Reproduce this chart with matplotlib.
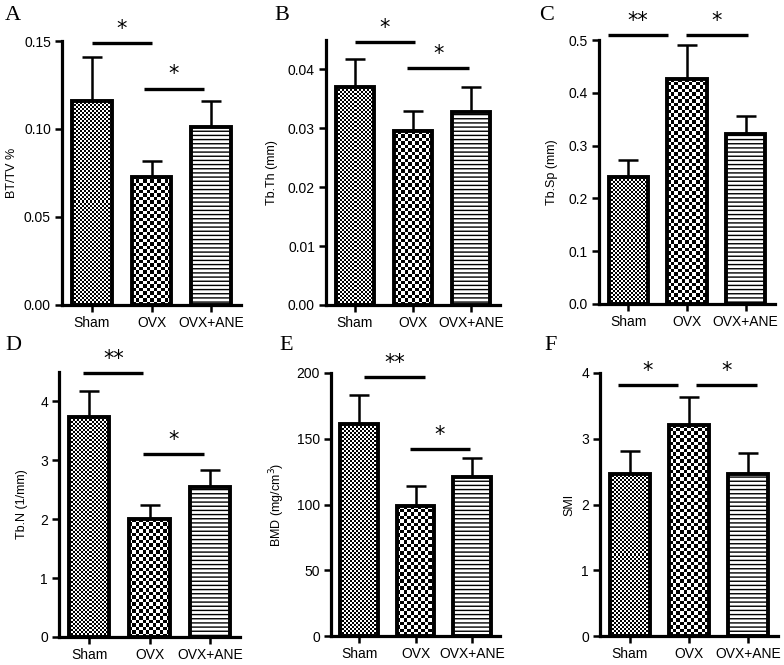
import numpy as np
import matplotlib
matplotlib.use("Agg")
import matplotlib.pyplot as plt

plt.rcParams['font.family'] = ['Liberation Sans', 'DejaVu Sans']
plt.rcParams['hatch.linewidth'] = 1.0

groups = ["Sham", "OVX", "OVX+ANE"]

# mean values and upper error bars
bt_tv = [0.116, 0.073, 0.101]
bt_tv_err = [0.025, 0.009, 0.015]
tb_th = [0.0370, 0.0295, 0.0328]
tb_th_err = [0.0048, 0.0035, 0.0042]
tb_sp = [0.240, 0.427, 0.322]
tb_sp_err = [0.033, 0.063, 0.035]
tb_n = [3.73, 2.00, 2.54]
tb_n_err = [0.44, 0.25, 0.29]
bmd = [161, 99, 121]
bmd_err = [22, 15, 14]
smi = [2.47, 3.21, 2.47]
smi_err = [0.34, 0.43, 0.32]

# significance brackets: (x start, x end, y, stars)
sig_a = [(0.0, 1.0, 0.149, "*"), (0.87, 1.88, 0.123, "*")]
sig_b = [(0.0, 1.03, 0.0446, "*"), (0.9, 1.97, 0.0402, "*")]
sig_c = [(-0.35, 0.68, 0.509, "**"), (0.98, 2.04, 0.509, "*")]
sig_d = [(-0.1, 0.9, 4.48, "**"), (0.9, 1.9, 3.10, "*")]
sig_e = [(0.09, 1.16, 197, "**"), (0.9, 1.97, 142, "*")]
sig_f = [(-0.2, 0.82, 3.82, "*"), (1.12, 2.15, 3.82, "*")]

W, H = 784, 665
fig = plt.figure(figsize=(W / 100, H / 100), dpi=100)


def px_axes(left, right, top, bottom):
    return fig.add_axes([left / W, 1 - bottom / H, (right - left) / W, (bottom - top) / H])


def checker(ax, patch, cell):
    bb = patch.get_window_extent()
    nx = max(1, int(round(bb.width / cell)))
    ny = max(1, int(round(bb.height / cell)))
    arr = np.add.outer(np.arange(ny), np.arange(nx)) % 2
    x0, y0 = patch.get_x(), patch.get_y()
    im = ax.imshow(arr, cmap="gray", vmin=0, vmax=1, origin="lower",
                   extent=(x0, x0 + patch.get_width(), y0, y0 + patch.get_height()),
                   interpolation="nearest", aspect="auto", zorder=2)
    im.set_clip_path(patch)


def panel(ax, vals, errs, ymax, ticks, fmt, ylabel, sigs, letter, letter_xy):
    x = np.arange(3)
    ax.set_xlim(-0.5, 2.5)
    ax.set_ylim(0, ymax)
    bars = ax.bar(x, vals, width=0.67, facecolor="none", edgecolor="black",
                  linewidth=2.8, zorder=4)
    ax.errorbar(x, vals, yerr=[[0, 0, 0], errs], fmt="none", ecolor="black",
                elinewidth=1.8, capsize=7.5, capthick=1.8, zorder=1)
    # fills: fine checker, coarse checker, horizontal lines
    checker(ax, bars[0], 2)
    checker(ax, bars[1], 3.5)
    ax.bar(x[2], vals[2], width=0.67, facecolor="white", edgecolor="black",
           hatch="----", linewidth=0, zorder=2)
    ax.set_xlim(-0.5, 2.5)
    ax.set_ylim(0, ymax)

    for x0, x1, y, s in sigs:
        ax.plot([x0, x1], [y, y], color="black", lw=2.4, clip_on=False,
                solid_capstyle="butt")
        ax.annotate(s, ((x0 + x1) / 2, y), xytext=(0, 3), textcoords="offset points",
                    ha="center", va="bottom", fontsize=15, family="DejaVu Sans",
                    annotation_clip=False)

    ax.spines[["top", "right"]].set_visible(False)
    ax.spines[["left", "bottom"]].set_linewidth(2.3)
    ax.set_yticks(ticks)
    ax.set_yticklabels([fmt.format(t) for t in ticks])
    ax.set_xticks(x)
    ax.set_xticklabels(groups)
    ax.tick_params(direction="out", length=5, width=1.8, labelsize=10, pad=3)
    ax.set_ylabel(ylabel, fontsize=9)
    fig.text(letter_xy[0] / W, 1 - letter_xy[1] / H, letter, fontsize=16,
             family="Liberation Serif", ha="left", va="top")


ax_a = px_axes(62, 241, 41, 305)
panel(ax_a, bt_tv, bt_tv_err, 0.15, [0, 0.05, 0.10, 0.15], "{:.2f}", "BT/TV %",
      sig_a, "A", (5, 6))
ax_a.yaxis.set_label_coords(-0.245, 0.5)

ax_b = px_axes(326, 500, 40, 305)
panel(ax_b, tb_th, tb_th_err, 0.045, [0, 0.01, 0.02, 0.03, 0.04], "{:.2f}",
      "Tb.Th (mm)", sig_b, "B", (274, 6))
ax_b.yaxis.set_label_coords(-0.276, 0.5)

ax_c = px_axes(599, 775, 40, 304)
panel(ax_c, tb_sp, tb_sp_err, 0.5, [0, 0.1, 0.2, 0.3, 0.4, 0.5], "{:.1f}",
      "Tb.Sp (mm)", sig_c, "C", (539, 6))
ax_c.yaxis.set_label_coords(-0.233, 0.5)

ax_d = px_axes(59, 240, 372, 637)
panel(ax_d, tb_n, tb_n_err, 4.5, [0, 1, 2, 3, 4], "{:d}", "Tb.N (1/mm)",
      sig_d, "D", (5, 336))
ax_d.yaxis.set_label_coords(-0.171, 0.5)

ax_e = px_axes(331, 500, 373, 636)
panel(ax_e, bmd, bmd_err, 200, [0, 50, 100, 150, 200], "{:d}",
      "BMD (mg/cm$^3$)", sig_e, "E", (279, 336))
ax_e.yaxis.set_label_coords(-0.26, 0.5)

ax_f = px_axes(600, 778, 373, 636)
panel(ax_f, smi, smi_err, 4, [0, 1, 2, 3, 4], "{:d}", "SMI",
      sig_f, "F", (544, 336))
ax_f.yaxis.set_label_coords(-0.14, 0.5)

fig.savefig("out.png", dpi=100)
